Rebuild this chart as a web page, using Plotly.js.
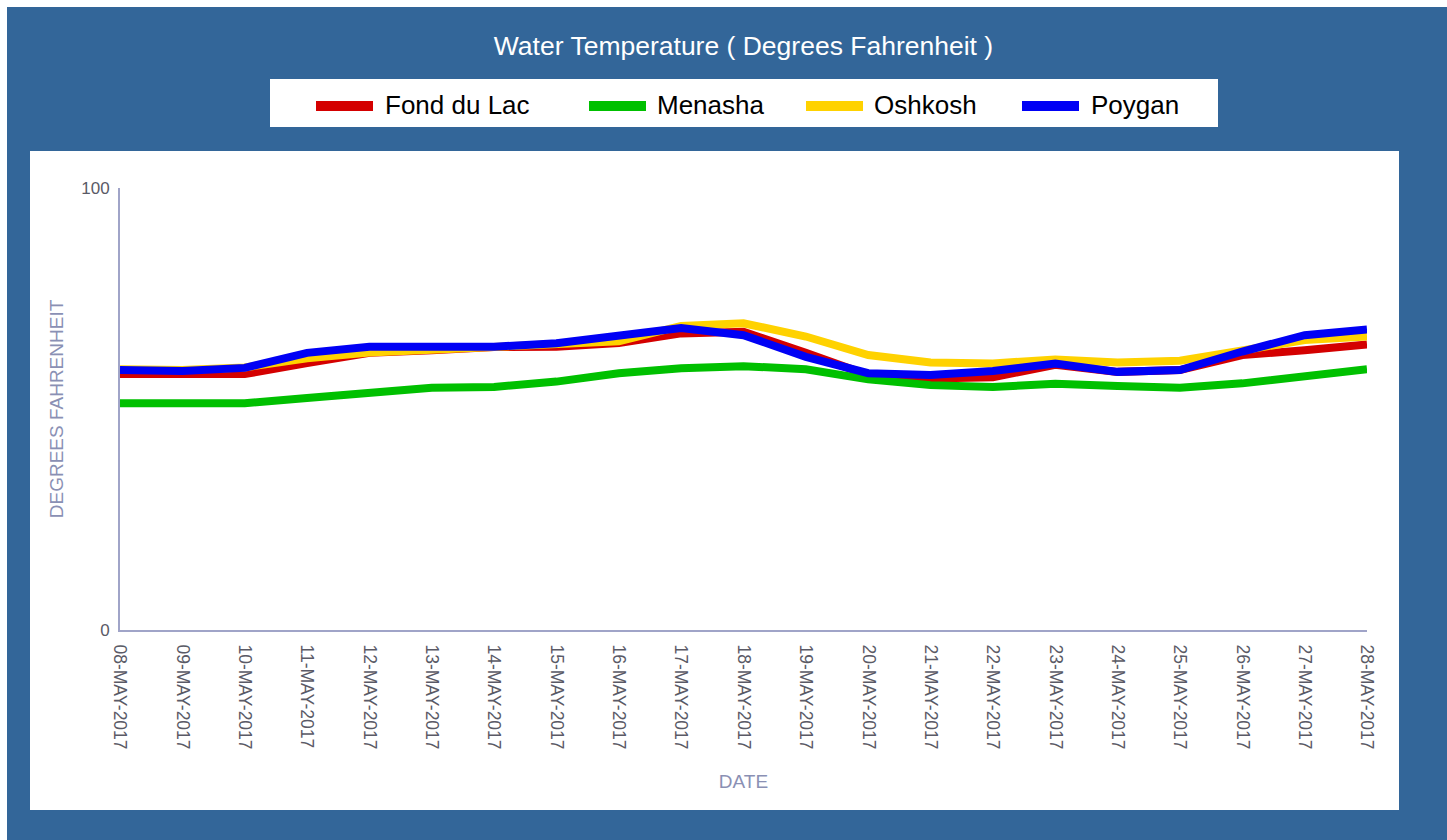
<!DOCTYPE html>
<html>
<head>
<meta charset="utf-8">
<script src="https://cdn.plot.ly/plotly-3.0.1.min.js"></script>
<style>
  html, body { margin: 0; padding: 0; background: #ffffff; width: 1447px; height: 840px; overflow: hidden; }
  #chart { position: absolute; left: 7px; top: 7px; width: 1440px; height: 833px; }
</style>
</head>
<body>
<div id="chart"></div>
<script>
// ---- data ----
const dates = ['08-MAY-2017','09-MAY-2017','10-MAY-2017','11-MAY-2017','12-MAY-2017','13-MAY-2017','14-MAY-2017',
               '15-MAY-2017','16-MAY-2017','17-MAY-2017','18-MAY-2017','19-MAY-2017','20-MAY-2017','21-MAY-2017',
               '22-MAY-2017','23-MAY-2017','24-MAY-2017','25-MAY-2017','26-MAY-2017','27-MAY-2017','28-MAY-2017'];
const seriesNames = ['Fond du Lac', 'Menasha', 'Oshkosh', 'Poygan'];
const fondDuLac = [57.9,58.1,57.9,60.4,62.7,63.3,64.0,64.1,64.9,67.1,67.5,62.7,57.7,56.9,57.2,60.0,58.4,58.8,62.2,63.3,64.6];
const menasha   = [51.3,51.3,51.3,52.5,53.6,54.8,55.0,56.2,58.1,59.2,59.7,59.0,56.7,55.4,55.0,55.7,55.2,54.8,55.8,57.5,59.0];
const oshkosh   = [59.0,58.8,59.4,61.5,62.8,63.4,64.0,64.5,65.3,68.8,69.4,66.4,62.2,60.5,60.3,61.2,60.5,60.9,63.3,65.6,66.4];
const poygan    = [58.8,58.6,59.3,62.7,64.1,64.3,64.1,64.9,66.5,68.3,66.7,61.8,58.1,57.7,58.6,60.3,58.4,58.8,63.0,66.7,68.0];
const yTickVals = [0, 100];
const yTickText = ['0', '100'];

// ---- styling ----
const seriesValues = [fondDuLac, menasha, oshkosh, poygan];
const seriesColors = ['#d40000', '#00c000', '#ffd200', '#0000f5'];
const FONT = '"Liberation Sans", Arial, sans-serif';

// page-pixel -> paper helpers (plot area: x 120..1367, y 188..630 on the page)
const PL = 120, PR = 1367, PT = 188, PB = 630;
const px = x => (x - PL) / (PR - PL);
const py = y => (PB - y) / (PB - PT);

const traces = seriesValues.map((vals, i) => ({
  type: 'scatter', mode: 'lines', name: seriesNames[i],
  x: dates, y: vals,
  line: { color: seriesColors[i], width: 8 },
  showlegend: false, hoverinfo: 'x+y+name'
}));

const swatchX = [316, 589, 806, 1022];
const labelX  = [383, 655, 872, 1089];

const shapes = [
  { type: 'rect', xref: 'paper', yref: 'paper', layer: 'below',
    x0: px(30), x1: px(1399), y0: py(810), y1: py(151),
    fillcolor: '#ffffff', line: { width: 0 } },
  { type: 'rect', xref: 'paper', yref: 'paper', layer: 'below',
    x0: px(270), x1: px(1218), y0: py(127), y1: py(79),
    fillcolor: '#ffffff', line: { width: 0 } }
];
const annotations = [];
seriesNames.forEach((name, i) => {
  shapes.push({ type: 'rect', xref: 'paper', yref: 'paper', layer: 'above',
    x0: px(swatchX[i]), x1: px(swatchX[i] + 57), y0: py(111), y1: py(101),
    fillcolor: seriesColors[i], line: { width: 0 } });
  annotations.push({ xref: 'paper', yref: 'paper', x: px(labelX[i]), y: py(105),
    xanchor: 'left', yanchor: 'middle', showarrow: false, text: name,
    font: { family: FONT, size: 26, color: '#000000' } });
});

const layout = {
  width: 1440, height: 833,
  margin: { l: 113, r: 80, t: 181, b: 210 },
  paper_bgcolor: '#336699', plot_bgcolor: '#ffffff',
  font: { family: FONT },
  title: { text: 'Water Temperature ( Degrees Fahrenheit )',
           font: { family: FONT, size: 26.5, color: '#ffffff' },
           xref: 'paper', x: 0.5, xanchor: 'center',
           yref: 'container', y: 1 - 39 / 833, yanchor: 'middle' },
  showlegend: false,
  xaxis: {
    type: 'category', range: [0, dates.length - 1],
    showgrid: false, zeroline: false, showline: true,
    linecolor: '#a0a4c8', linewidth: 2, ticks: '',
    tickangle: 90, ticklabelstandoff: 9,
    tickfont: { family: FONT, size: 17.5, color: '#5a5a66' },
    title: { text: 'DATE', standoff: 26, font: { family: FONT, size: 19, color: '#8a90b4' } },
    automargin: false
  },
  yaxis: {
    range: [0, 100], tickvals: yTickVals, ticktext: yTickText,
    showgrid: false, zeroline: false, showline: true,
    linecolor: '#a0a4c8', linewidth: 2, ticks: '',
    ticklabelstandoff: 5,
    tickfont: { family: FONT, size: 17, color: '#5a5a66' },
    title: { text: 'DEGREES FAHRENHEIT', standoff: 13, font: { family: FONT, size: 19, color: '#8a90b4' } },
    automargin: false
  },
  shapes: shapes,
  annotations: annotations
};

Plotly.newPlot('chart', traces, layout, { displayModeBar: false, responsive: false });
</script>
</body>
</html>
